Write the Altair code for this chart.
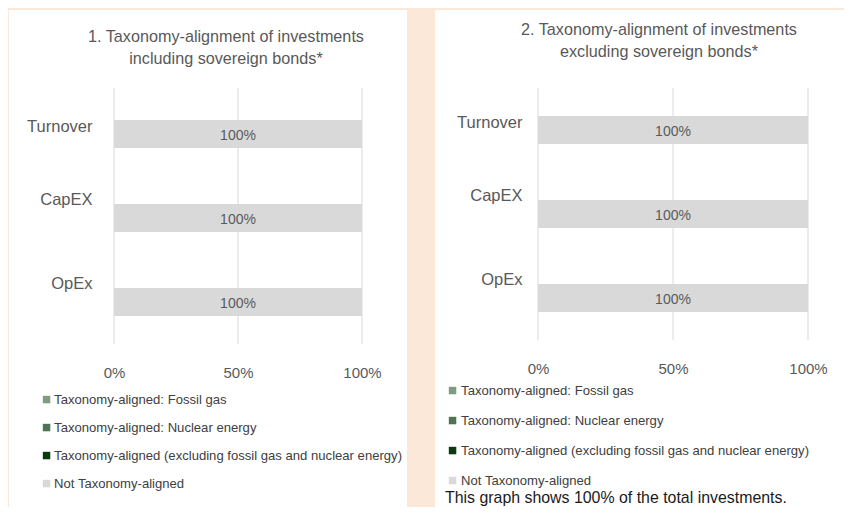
import altair as alt
import pandas as pd

# ---------------- data ----------------
categories = ["Turnover", "CapEX", "OpEx"]
series = [
    "Taxonomy-aligned: Fossil gas",
    "Taxonomy-aligned: Nuclear energy",
    "Taxonomy-aligned (excluding fossil gas and nuclear energy)",
    "Not Taxonomy-aligned",
]
colors = ["#7f9c82", "#4e7452", "#0b3a10", "#d9d9d9"]

# chart 1: including sovereign bonds
incl_fossil = [0, 0, 0]
incl_nuclear = [0, 0, 0]
incl_aligned = [0, 0, 0]
incl_not = [100, 100, 100]

# chart 2: excluding sovereign bonds
excl_fossil = [0, 0, 0]
excl_nuclear = [0, 0, 0]
excl_aligned = [0, 0, 0]
excl_not = [100, 100, 100]

title1 = ["1. Taxonomy-alignment of investments", "including sovereign bonds*"]
title2 = ["2. Taxonomy-alignment of investments", "excluding sovereign bonds*"]
footnote = "This graph shows 100% of the total investments."
x_ticks = [0, 50, 100]

FONT = "Liberation Sans"
GREY = "#595959"


def make_df(vals):
    rows = []
    for si, (s, v) in enumerate(zip(series, vals)):
        for c, val in zip(categories, v):
            rows.append({"category": c, "series": s, "value": val, "order": si})
    return pd.DataFrame(rows)


def panel(df, title, w, h, pad_outer, align, label_pad, bg, leg_xy, row_pad, leg_off, title_xy, note=False):
    base = alt.Chart(df)
    one = pd.DataFrame({"k": [0]})
    bg_rect = alt.Chart(one).mark_rect(color="white").encode(
        x=alt.value(bg[0]), x2=alt.value(bg[1]), y=alt.value(bg[2]), y2=alt.value(bg[3])
    )
    title_marks = [
        alt.Chart(one)
        .mark_text(text=line, fontSize=16.2, font=FONT, color=GREY, align="center", baseline="middle")
        .encode(x=alt.value(title_xy[0]), y=alt.value(title_xy[1] + i * 21.5))
        for i, line in enumerate(title)
    ]
    grid = (
        alt.Chart(pd.DataFrame({"tick": x_ticks}))
        .mark_rule(color="#d9d9d9", strokeWidth=1)
        .encode(x=alt.X("tick:Q", scale=alt.Scale(domain=[0, 100])), y=alt.value(0), y2=alt.value(h))
    )
    ysc = alt.Scale(domain=categories, paddingInner=0, paddingOuter=pad_outer, align=align)
    bars = base.mark_bar(size=28).encode(
        x=alt.X(
            "value:Q",
            stack="zero",
            scale=alt.Scale(domain=[0, 100]),
            axis=alt.Axis(
                values=x_ticks,
                labelExpr="datum.value + '%'",
                title=None,
                domain=False,
                ticks=False,
                grid=False,
                zindex=1,
                labelFlush=False,
                labelFontSize=15,
                labelColor=GREY,
                labelPadding=21,
                labelFont=FONT,
            ),
        ),
        y=alt.Y(
            "category:N",
            sort=categories,
            scale=ysc,
            axis=alt.Axis(
                title=None,
                domain=False,
                ticks=False,
                grid=False,
                zindex=1,
                labelFontSize=16.5,
                labelColor=GREY,
                labelFont=FONT,
                labelPadding=label_pad,
                labelOffset={"condition": {"test": "datum.value === 'Turnover'", "value": -7}, "value": -18},
            ),
        ),
        color=alt.Color(
            "series:N",
            sort=series,
            scale=alt.Scale(domain=series, range=colors),
            legend=alt.Legend(
                orient="none",
                legendX=leg_xy[0],
                legendY=leg_xy[1],
                direction="vertical",
                title=None,
                symbolType="square",
                symbolSize=56,
                symbolStrokeWidth=0,
                labelFontSize=13.1,
                labelFont=FONT,
                labelColor="#404040",
                labelLimit=500,
                rowPadding=row_pad,
                labelOffset=leg_off,
            ),
        ),
        order=alt.Order("order:Q"),
    )
    labels = (
        base.transform_stack(stack="value", groupby=["category"], sort=[alt.SortField("order")], as_=["v0", "v1"])
        .transform_filter("datum.value > 0")
        .transform_calculate(mid="(datum.v0 + datum.v1) / 2", txt="datum.value + '%'")
        .mark_text(fontSize=14, color=GREY, font=FONT, dy=2)
        .encode(x=alt.X("mid:Q"), y=alt.Y("category:N", sort=categories), text="txt:N")
    )
    layers = [bg_rect, grid, bars, labels] + title_marks
    if note:
        layers.append(
            alt.Chart(pd.DataFrame({"note": [footnote]}))
            .mark_text(align="left", baseline="middle", fontSize=15.9, font=FONT, color="#1a1a1a")
            .encode(x=alt.value(-93), y=alt.value(410), text="note:N")
        )
    return alt.layer(*layers).properties(width=w, height=h)


left = panel(
    make_df([incl_fossil, incl_nuclear, incl_aligned, incl_not]),
    title1, 248, 256, 0.0238, 1, 22,
    (-105, 293, -78, 419), (-74, 305), 14, 1, (112, -51),
)
right = panel(
    make_df([excl_fossil, excl_nuclear, excl_aligned, excl_not]),
    title2, 270, 252, 0, 0.5, 16,
    (-103, 306, -78, 419), (-92, 296), 16, 2, (121, -58), note=True,
)

chart = (
    alt.hconcat(left, right, spacing=28)
    .resolve_scale(color="independent")
    .properties(background="#fbe8d8", padding={"left": 1, "top": 2, "right": 0, "bottom": 0})
    .configure_view(stroke=None)
)

chart.save("out.html", embed_options={"renderer": "svg", "actions": False})
